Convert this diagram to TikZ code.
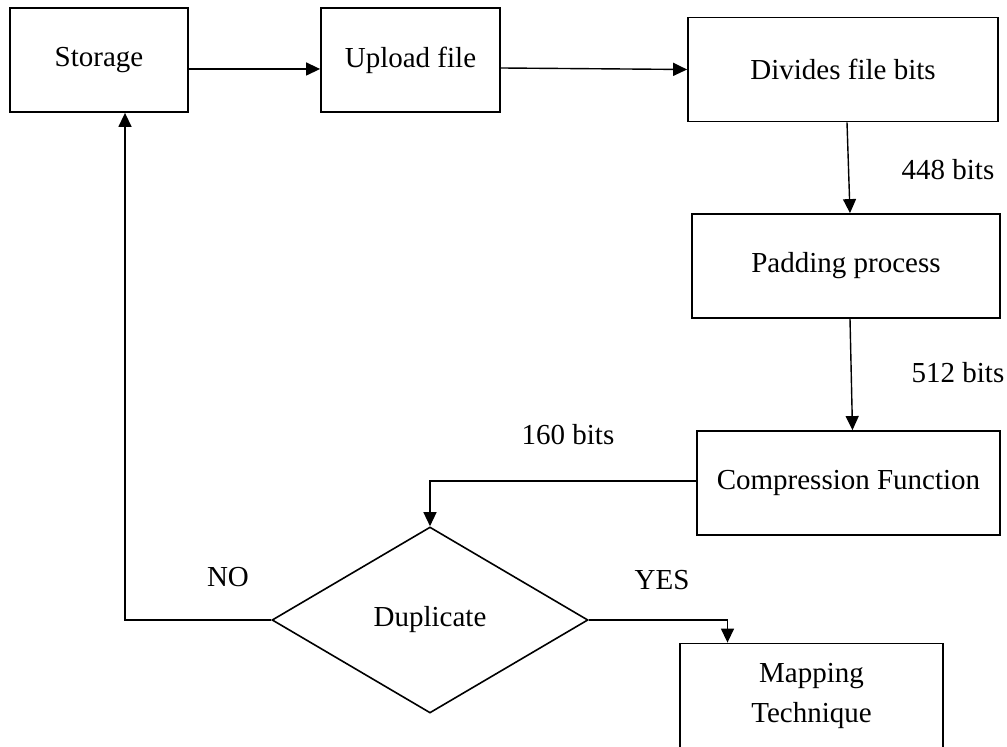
\documentclass[tikz,border=0pt]{standalone}
\usepackage{fontspec}
\setmainfont{Liberation Serif}
\usetikzlibrary{shapes.geometric, arrows.meta, positioning}
\tikzstyle{process} = [rectangle,
minimum height=52pt, text centered,
inner sep=2pt, line width=0.9pt,
draw=black]
\tikzstyle{decision} = [diamond,
minimum width=158pt, minimum height=93pt,
inner sep=0pt, line width=0.8pt,
draw=black]
\tikzstyle{arrow} = [-{Triangle[length=7pt,width=6.5pt]}, line width=0.7pt]
\tikzstyle{bits} = [inner sep=0pt]

\begin{document}
\begin{tikzpicture}[
  x=0.5pt, y=-0.5pt, % one unit is one pixel of the page
  font=\fontsize{14.5}{19}\selectfont,
]
  \useasboundingbox (0,0) rectangle (1007,747);

  \node[process, minimum width=89pt]    (st) at (99,60)    {Storage};
  \node[process, minimum width=89.5pt]  (up) at (410.5,60) {Upload file};
  \node[process, minimum width=155pt]   (dv) at (843,69.5) {Divides file bits};
  \node[process, minimum width=154pt]   (pd) at (846,266)  {Padding process};
  \node[process, minimum width=151.5pt] (cp) at (848.5,483) {Compression Function};
  \node[decision]                       (dp) at (430,620)  {Duplicate};
  \node[process, minimum width=131.5pt, align=center] (mp) at (811.5,695.5) {Mapping\\[1pt]Technique};

  \node[bits] (b448) at (948,170) {448 bits};
  \node[bits] (b512) at (958,373) {512 bits};
  \node[bits] (b160) at (568,435) {160 bits};
  \node[bits] (no)   at (228,577) {NO};
  \node[bits] (yes)  at (662,580) {YES};

  \draw [arrow] ([yshift=-4.5pt]st.east) -- ([yshift=-4.5pt]up.west);
  \draw [arrow] ([yshift=-4pt]up.east) -- (dv.west);
  \draw [arrow] ([xshift=2pt]dv.south) -- ([xshift=2pt]pd.north);
  \draw [arrow] ([xshift=2pt]pd.south) -- ([xshift=2pt]cp.north);

  \draw [arrow] ([yshift=1pt]cp.west) -| (dp.north);
  \draw [arrow] (dp.west) -| ([xshift=13pt]st.south);
  \draw [arrow] (dp.east) -| ([xshift=-42pt]mp.north);
\end{tikzpicture}
\end{document}
